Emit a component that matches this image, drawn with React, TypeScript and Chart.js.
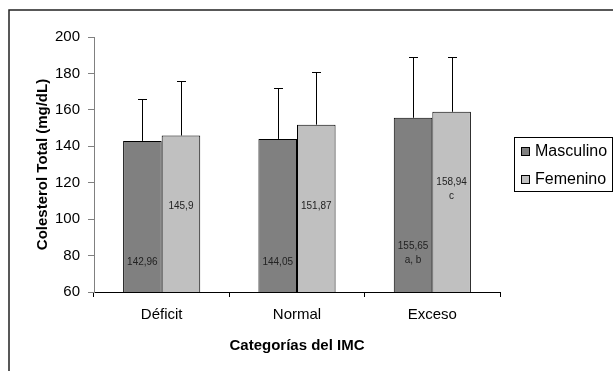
import React, { useEffect, useRef } from "react";
import { Chart, registerables } from "chart.js";

Chart.register(...registerables);

const categories = ["Déficit", "Normal", "Exceso"];
const seriesNames = ["Masculino", "Femenino"];
const masculino = [142.96, 144.05, 155.65];
const femenino = [145.9, 151.87, 158.94];
const masculinoSD = [23, 28, 33.2];
const femeninoSD = [29.9, 28.9, 29.9];
const masculinoLabels = ["142,96", "144,05", "155,65"];
const femeninoLabels = ["145,9", "151,87", "158,94"];
const masculinoNotes = ["", "", "a, b"];
const femeninoNotes = ["", "", "c"];
// value (in y units) at which each in-bar label is written
const masculinoLabelAt = [76.5, 76.5, 85.3];
const femeninoLabelAt = [107.3, 107.1, 120.3];
const yTicks = { min: 60, max: 200, step: 20 };

const colors = ["#808080", "#C0C0C0"];
const FONT = "'Liberation Sans', Arial, sans-serif";

export default function App() {
  const ref = useRef<HTMLCanvasElement | null>(null);

  useEffect(() => {
    const canvas = ref.current;
    if (!canvas) return;

    const sds = [masculinoSD, femeninoSD];
    const labels = [masculinoLabels, femeninoLabels];
    const notes = [masculinoNotes, femeninoNotes];
    const labelAt = [masculinoLabelAt, femeninoLabelAt];

    const extras = {
      id: "extras",
      beforeDraw(chart: any) {
        const ctx = chart.ctx;
        ctx.save();
        ctx.fillStyle = "#ffffff";
        ctx.fillRect(0, 0, chart.width, chart.height);
        ctx.restore();
      },
      afterDatasetsDraw(chart: any) {
        const ctx = chart.ctx;
        const y = chart.scales.y;
        ctx.save();
        chart.data.datasets.forEach((ds: any, di: number) => {
          const meta = chart.getDatasetMeta(di);
          meta.data.forEach((el: any, i: number) => {
            const top = y.getPixelForValue(ds.data[i] + sds[di][i]);
            const x = Math.round(el.x) + 0.5;
            ctx.strokeStyle = "#000";
            ctx.lineWidth = 1;
            ctx.beginPath();
            ctx.moveTo(x, el.y);
            ctx.lineTo(x, Math.round(top) + 0.5);
            ctx.moveTo(x - 4.5, Math.round(top) + 0.5);
            ctx.lineTo(x + 4.5, Math.round(top) + 0.5);
            ctx.stroke();
            ctx.fillStyle = "#222";
            ctx.font = `10px ${FONT}`;
            ctx.textAlign = "center";
            ctx.textBaseline = "middle";
            const ly = y.getPixelForValue(labelAt[di][i]);
            ctx.fillText(labels[di][i], el.x, ly);
            if (notes[di][i]) ctx.fillText(notes[di][i], el.x, ly + 14);
          });
        });
        ctx.restore();
      },
      afterDraw(chart: any) {
        const ctx = chart.ctx;
        const area = chart.chartArea;
        ctx.save();
        ctx.strokeStyle = "#222";
        ctx.lineWidth = 1.5;
        ctx.strokeRect(9, 10, 700, 500);
        ctx.fillStyle = "#000";
        ctx.font = `bold 15px ${FONT}`;
        ctx.textAlign = "center";
        ctx.textBaseline = "middle";
        ctx.fillText("Categorías del IMC", (area.left + area.right) / 2, 346);
        ctx.save();
        ctx.translate(43, (area.top + area.bottom) / 2);
        ctx.rotate(-Math.PI / 2);
        ctx.fillText("Colesterol Total (mg/dL)", 0, 0);
        ctx.restore();
        const lx = 514, ly = 137, lw = 98, lh = 54;
        ctx.strokeStyle = "#000";
        ctx.lineWidth = 1;
        ctx.strokeRect(lx + 0.5, ly + 0.5, lw, lh);
        ctx.font = `16px ${FONT}`;
        ctx.textAlign = "left";
        seriesNames.forEach((name, i) => {
          const cy = 152 + i * 28;
          ctx.fillStyle = colors[i];
          ctx.fillRect(521.5, cy - 4.5, 8, 8);
          ctx.strokeRect(521.5, cy - 4.5, 8, 8);
          ctx.fillStyle = "#000";
          ctx.fillText(name, 535, cy);
        });
        ctx.restore();
      },
    };

    const chart = new Chart(canvas, {
      type: "bar",
      data: {
        labels: categories,
        datasets: [
          {
            label: seriesNames[0],
            data: masculino,
            backgroundColor: colors[0],
            borderColor: "#000",
            borderWidth: 1,
            categoryPercentage: 0.57,
            barPercentage: 1,
          },
          {
            label: seriesNames[1],
            data: femenino,
            backgroundColor: colors[1],
            borderColor: "#000",
            borderWidth: 1,
            categoryPercentage: 0.57,
            barPercentage: 1,
          },
        ],
      },
      options: {
        responsive: false,
        animation: false,
        devicePixelRatio: 1,
        layout: { padding: { left: 0, top: 37, right: 113, bottom: 0 } },
        plugins: { legend: { display: false }, tooltip: { enabled: false } },
        scales: {
          x: {
            afterFit: (s: any) => {
              s.height = 79;
            },
            grid: {
              offset: true,
              drawOnChartArea: false,
              drawTicks: true,
              tickLength: 5,
              color: "#000",
            },
            border: { color: "#000", width: 1 },
            ticks: {
              color: "#000",
              font: { family: FONT, size: 15 },
              padding: 9,
            },
          },
          y: {
            min: yTicks.min,
            max: yTicks.max,
            afterFit: (s: any) => {
              s.width = 94;
            },
            grid: {
              drawOnChartArea: false,
              drawTicks: true,
              tickLength: 6,
              color: "#808080",
            },
            border: { color: "#808080", width: 1 },
            ticks: {
              stepSize: yTicks.step,
              color: "#000",
              font: { family: FONT, size: 15 },
              padding: 8,
            },
          },
        },
      },
      plugins: [extras],
    });

    return () => chart.destroy();
  }, []);

  return (
    <div style={{ position: "absolute", left: 0, top: 0, width: 613, height: 371 }}>
      <canvas ref={ref} width={613} height={371} style={{ display: "block" }} />
    </div>
  );
}
